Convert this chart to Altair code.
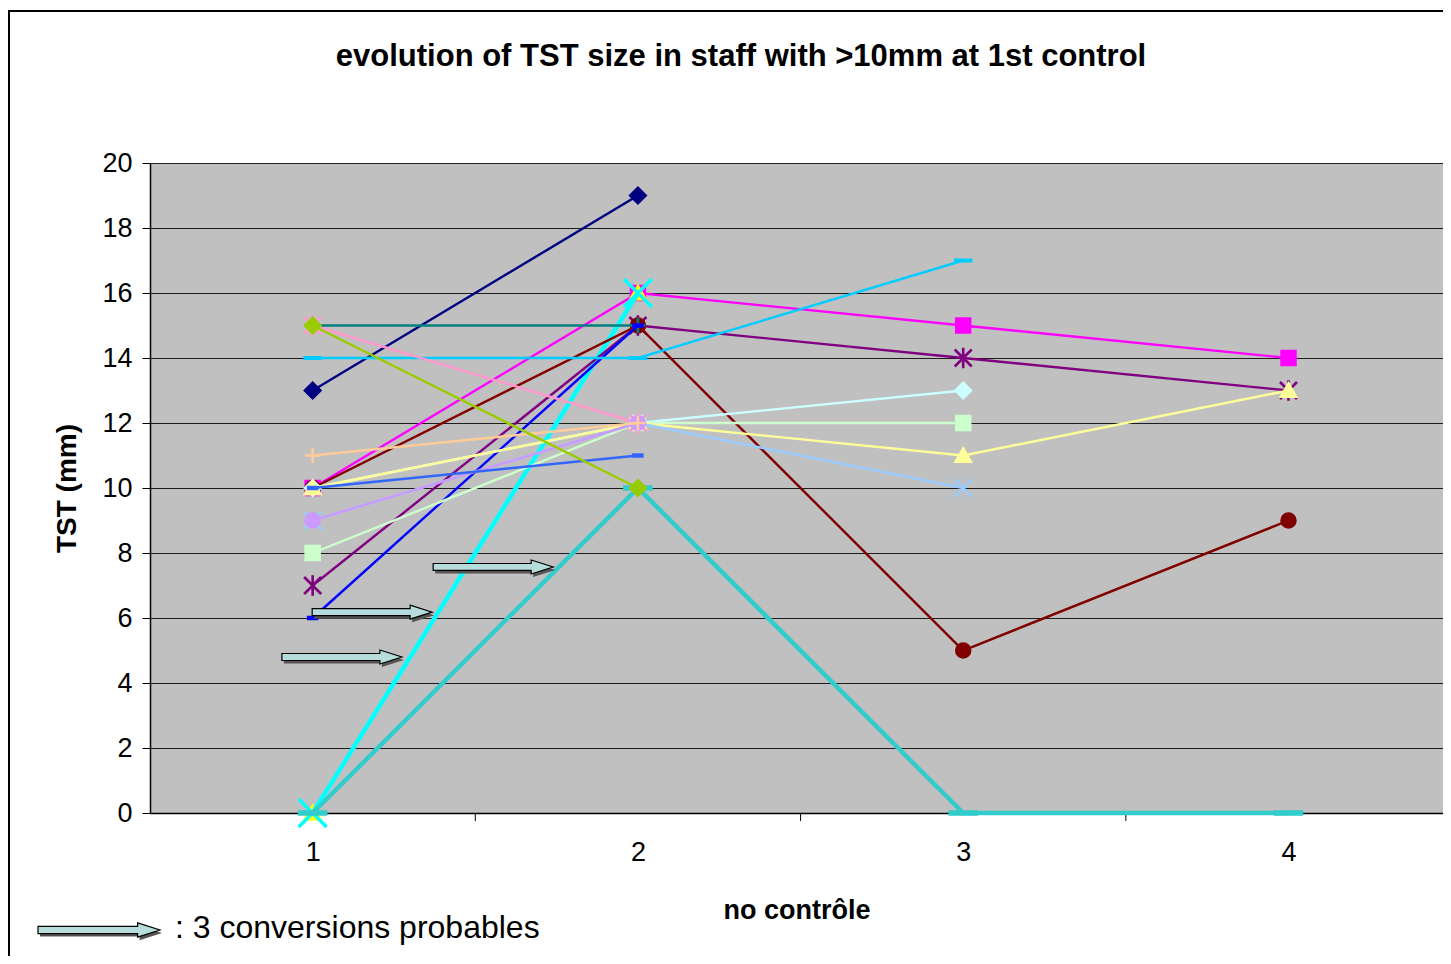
import altair as alt
import pandas as pd

# ---------------- data ----------------
controls = [1, 2, 3, 4]
series_names = [f"s{i:02d}" for i in range(1, 20)]
s01 = [13, 19, None, None]
s02 = [10, 16, 15, 14]
s03 = [0, 16, None, None]
s04 = [0, 16, None, None]
s05 = [7, 15, 14, 13]
s06 = [10, 15, 5, 9]
s07 = [15, 15, None, None]
s08 = [6, 15, None, None]
s09 = [14, 14, 17, None]
s10 = [10, 12, 13, None]
s11 = [8, 12, 12, None]
s12 = [10, 12, 11, 13]
s13 = [9, 12, 10, None]
s14 = [15, 12, None, None]
s15 = [9, 12, None, None]
s16 = [11, 12, None, None]
s17 = [10, 11, None, None]
s18 = [0, 10, 0, 0]
s19 = [15, 10, None, None]
series_values = [s01, s02, s03, s04, s05, s06, s07, s08, s09, s10,
                 s11, s12, s13, s14, s15, s16, s17, s18, s19]

# annotation arrows ("3 conversions probables")
arrow_x = [1.09, 1.183, 1.555]
arrow_y = [4.8, 6.18, 7.57]

title_text = "evolution of TST size in staff with >10mm at 1st control"
x_title = "no contrôle"
y_title = "TST (mm)"
y_ticks = list(range(0, 21, 2))
legend_text = ": 3 conversions probables"

# ---------------- styles ----------------
colors = ["#000080", "#FF00FF", "#FFFF00", "#00FFFF", "#800080", "#800000",
          "#008080", "#0000FF", "#00CCFF", "#CCFFFF", "#CCFFCC", "#FFFF99",
          "#99CCFF", "#FF99CC", "#CC99FF", "#FFCC99", "#3366FF", "#33CCCC",
          "#99CC00"]
markers = ["diamond", "square", "triangle", "x", "star", "circle", "plus",
           "dash", "ldash", "diamond", "square", "triangle", "x", "star",
           "circle", "plus", "dash", "ldash", "diamond"]
marker_px = [17, 15, 17, 28, 17, 15, 15, 10, 17, 17, 15, 17, 18, 17, 15, 15,
             10, 28, 17]
line_widths = [2.4, 2.4, 2.4, 4.5, 2.4, 2.4, 2.4, 2.4, 2.4, 2.4, 2.4, 2.4,
               2.4, 2.4, 2.4, 2.4, 2.4, 4.5, 2.4]

shape_defs = {
    "diamond": ("diamond", True),
    "square": ("square", True),
    "triangle": ("M0,-0.95L1,0.8L-1,0.8Z", True),
    "x": ("M-1,-1L1,1M-1,1L1,-1", False),
    "star": ("M-1,-1L1,1M-1,1L1,-1M0,-1.2L0,1.2", False),
    "circle": ("circle", True),
    "plus": ("M-1,0L1,0M0,-1L0,1", False),
    "dash": ("M-1,-0.3L1,-0.3L1,0.3L-1,0.3Z", True),
    "ldash": ("M-1,-0.15L1,-0.15L1,0.15L-1,0.15Z", True),
}
arrow_path = "M-1,-0.058L0.633,-0.058L0.633,-0.117L1,0L0.633,0.117L0.633,0.058L-1,0.058Z"
FONT = "Liberation Sans"

# ---------------- tables ----------------
rows = []
for name, vals in zip(series_names, series_values):
    for c, v in zip(controls, vals):
        if v is not None:
            rows.append({"series": name, "control": c, "tst": v})
df = pd.DataFrame(rows)
arrows_df = pd.DataFrame({"control": arrow_x, "tst": arrow_y})
ticks_df = pd.DataFrame({"control": [1.5, 2.5, 3.5]})
legend_df = pd.DataFrame({"t": [legend_text]})
title_df = pd.DataFrame({"t": [title_text]})

W, H = 1293, 650

X = alt.X("control:Q",
          scale=alt.Scale(domain=[0.5, 4.475], nice=False, zero=False),
          axis=alt.Axis(values=controls, format="d", ticks=False, tickSize=0,
                        grid=False, domainColor="black", domainWidth=1.5,
                        labelFontSize=27, labelFont=FONT, labelColor="black",
                        labelPadding=26, title=x_title, titleFont=FONT,
                        titleFontSize=27, titleFontWeight="bold",
                        titleColor="black", titlePadding=32))
Y = alt.Y("tst:Q",
          scale=alt.Scale(domain=[0, 20], nice=False, zero=False),
          axis=alt.Axis(values=y_ticks, tickSize=8, tickColor="black",
                        domainColor="black", domainWidth=1.5, grid=True,
                        gridColor="black", gridWidth=1, gridOpacity=0.85,
                        labelFontSize=27, labelFont=FONT, labelColor="black",
                        labelPadding=10, title=y_title, titleFont=FONT,
                        titleFontSize=28, titleFontWeight="bold",
                        titleColor="black", titlePadding=20))

layers = []

# outer frame of the chart area
frame = alt.Chart(legend_df).mark_rect(fillOpacity=0, stroke="black", strokeWidth=2).encode(
    x=alt.value(-141), x2=alt.value(W + 200), y=alt.value(-152), y2=alt.value(H + 300))
layers.append(frame)

# chart title
title = alt.Chart(title_df).mark_text(align="center", baseline="middle", font=FONT,
                                      fontSize=31, fontWeight="bold", color="black").encode(
    x=alt.value(591), y=alt.value(-106), text="t:N")
layers.append(title)

# category separator ticks on x axis
xt = alt.Chart(ticks_df).mark_rule(color="black", strokeWidth=1).encode(
    x=X, y=alt.value(H), y2=alt.value(H + 8))
layers.append(xt)

base = alt.Chart(df)
for i, name in enumerate(series_names):
    sub = base.transform_filter(alt.datum.series == name)
    layers.append(sub.mark_line(color=colors[i], strokeWidth=line_widths[i]).encode(x=X, y=Y))
    shape, filled = shape_defs[markers[i]]
    px = marker_px[i]
    if filled:
        pts = sub.mark_point(shape=shape, size=px * px, filled=True, fill=colors[i],
                             stroke=colors[i], strokeWidth=1.5, opacity=1)
    else:
        pts = sub.mark_point(shape=shape, size=px * px, filled=False,
                             stroke=colors[i], strokeWidth=3.4 if px > 20 else 2.6,
                             opacity=1)
    layers.append(pts.encode(x=X, y=Y))

# arrows
shadow = alt.Chart(arrows_df).mark_point(shape=arrow_path, size=120 * 120, filled=True,
                                         fill="#555555", strokeWidth=0, opacity=1,
                                         xOffset=2, yOffset=3).encode(x=X, y=Y)
arrow = alt.Chart(arrows_df).mark_point(shape=arrow_path, size=120 * 120, filled=True,
                                        fill="#B7DCDC", stroke="#000000", strokeWidth=1.2,
                                        opacity=1).encode(x=X, y=Y)
layers += [shadow, arrow]

# legend-like annotation below the chart
lg_shadow = alt.Chart(legend_df).mark_point(shape=arrow_path, size=122 * 122, filled=True,
                                            fill="#555555", strokeWidth=0, opacity=1,
                                            xOffset=2, yOffset=3).encode(
    x=alt.value(-51), y=alt.value(767))
lg_arrow = alt.Chart(legend_df).mark_point(shape=arrow_path, size=122 * 122, filled=True,
                                           fill="#B7DCDC", stroke="#000000", strokeWidth=1.2,
                                           opacity=1).encode(
    x=alt.value(-51), y=alt.value(767))
lg_text = alt.Chart(legend_df).mark_text(align="left", baseline="middle", font=FONT,
                                         fontSize=32, color="black").encode(
    x=alt.value(25), y=alt.value(765), text="t:N")
layers += [lg_shadow, lg_arrow, lg_text]

chart = alt.layer(*layers).properties(
    width=W, height=H,
    background="white",
    autosize=alt.AutoSizeParams(type="none"),
    padding={"left": 142, "top": 155, "right": 0, "bottom": 143},
).configure_view(fill="#C0C0C0", stroke="transparent")

chart.save("out.html", embed_options={"renderer": "svg", "actions": False})
